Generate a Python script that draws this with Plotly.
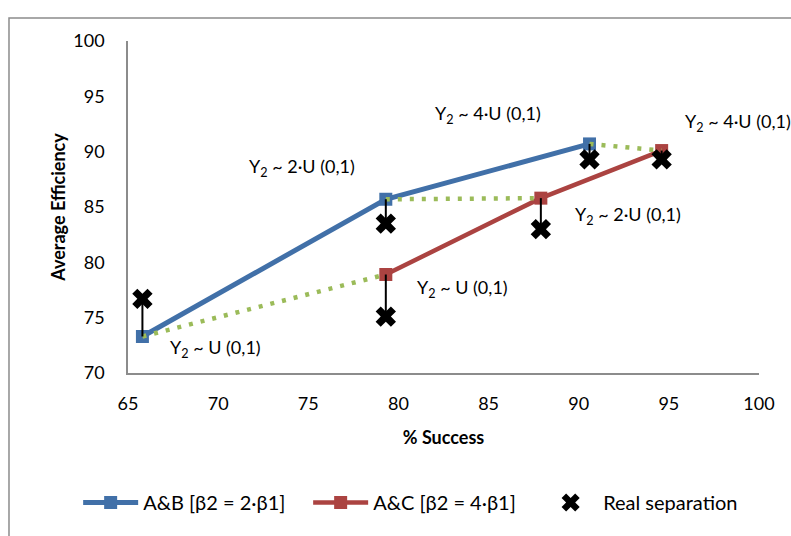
import plotly.graph_objects as go

# % success and average efficiency for each scenario
ab_success = [65.8, 79.3, 90.6]
ab_eff = [73.3, 85.7, 90.7]
ac_success = [79.3, 87.9, 94.6]
ac_eff = [78.9, 85.8, 90.1]

# real separation values, one per scenario point
real_success = [65.8, 79.3, 79.3, 87.9, 90.6, 94.6]
real_eff = [76.7, 83.5, 75.1, 83.0, 89.3, 89.3]
# efficiency of the estimated point each real value is paired with
paired_eff = [73.3, 85.7, 78.9, 85.8, 90.7, 90.1]

# annotation labels and their anchor positions (data units)
label_texts = ["Y<sub>2</sub> ~ U (0,1)", "Y<sub>2</sub> ~ 2·U (0,1)", "Y<sub>2</sub> ~ 4·U (0,1)",
               "Y<sub>2</sub> ~ 4·U (0,1)", "Y<sub>2</sub> ~ 2·U (0,1)", "Y<sub>2</sub> ~ U (0,1)"]
label_x = [67.2, 71.6, 81.9, 95.8, 89.7, 80.9]
label_y = [72.2, 88.6, 93.4, 92.6, 84.2, 77.6]

x_ticks = [65, 70, 75, 80, 85, 90, 95, 100]
y_ticks = [70, 75, 80, 85, 90, 95, 100]

BLUE = "#4170A8"
RED = "#AB4341"
GREEN = "#9BBB59"
FONT = "Lato"
FS = 18

fig = go.Figure()

fig.add_trace(go.Scatter(
    x=ab_success, y=ab_eff, mode="lines+markers", name="A&B [β2 = 2·β1]",
    line=dict(color=BLUE, width=5),
    marker=dict(symbol="square", size=13, color=BLUE),
    legendwidth=160,
))
fig.add_trace(go.Scatter(
    x=ac_success, y=ac_eff, mode="lines+markers", name="A&C [β2 = 4·β1]",
    line=dict(color=RED, width=4.5),
    marker=dict(symbol="square", size=13, color=RED),
    legendwidth=160,
))

# dotted links between paired A&B and A&C points
gx, gy = [], []
for i in range(3):
    gx += [ab_success[i], ac_success[i], None]
    gy += [ab_eff[i], ac_eff[i], None]
fig.add_trace(go.Scatter(
    x=gx, y=gy, mode="lines", showlegend=False, hoverinfo="skip",
    line=dict(color=GREEN, width=4.5, dash="4px,8px"),
))

# vertical connectors from estimated point to real separation
vx, vy = [], []
for xs, ye, yr in zip(real_success, paired_eff, real_eff):
    vx += [xs, xs, None]
    vy += [ye, yr, None]
fig.add_trace(go.Scatter(
    x=vx, y=vy, mode="lines", showlegend=False, hoverinfo="skip",
    line=dict(color="black", width=2),
))

fig.add_trace(go.Scatter(
    x=real_success, y=real_eff, mode="markers", name="Real separation",
    marker=dict(symbol="x", size=18, color="black", line=dict(width=0)),
))

for t, x, y in zip(label_texts, label_x, label_y):
    fig.add_annotation(x=x, y=y, text=t, showarrow=False, xanchor="left",
                       yanchor="middle", font=dict(family=FONT, size=FS, color="black"))

# outer chart frame
fig.add_shape(type="rect", xref="paper", yref="paper", x0=-0.1886, y0=-0.7, x1=1.2, y1=1.0693,
              line=dict(color="#8C8C8C", width=1.5), fillcolor="rgba(0,0,0,0)", layer="below")

fig.update_layout(
    width=791, height=536,
    margin=dict(l=128, r=32, t=41, b=163, autoexpand=False),
    paper_bgcolor="white", plot_bgcolor="white",
    font=dict(family=FONT, size=FS, color="black"),
    showlegend=True,
    legend=dict(orientation="h", x=-0.079, xanchor="left", y=-0.39, yanchor="middle",
                itemwidth=55, font=dict(family=FONT, size=20), bgcolor="rgba(0,0,0,0)"),
    xaxis=dict(range=[65, 100], tickvals=x_ticks, showgrid=False, zeroline=False,
               showline=True, linecolor="#8C8C8C", linewidth=1.5, ticks="",
               ticklabelstandoff=14,
               title=dict(text="<b>% Success</b>", font=dict(family=FONT, size=FS), standoff=18)),
    yaxis=dict(range=[70, 100], tickvals=y_ticks, showgrid=False, zeroline=False,
               showline=True, linecolor="#8C8C8C", linewidth=1.5, ticks="",
               ticklabelstandoff=18,
               title=dict(text="<b>Average Efficiency</b>", font=dict(family=FONT, size=FS), standoff=3)),
)

fig.write_html("out.html")
